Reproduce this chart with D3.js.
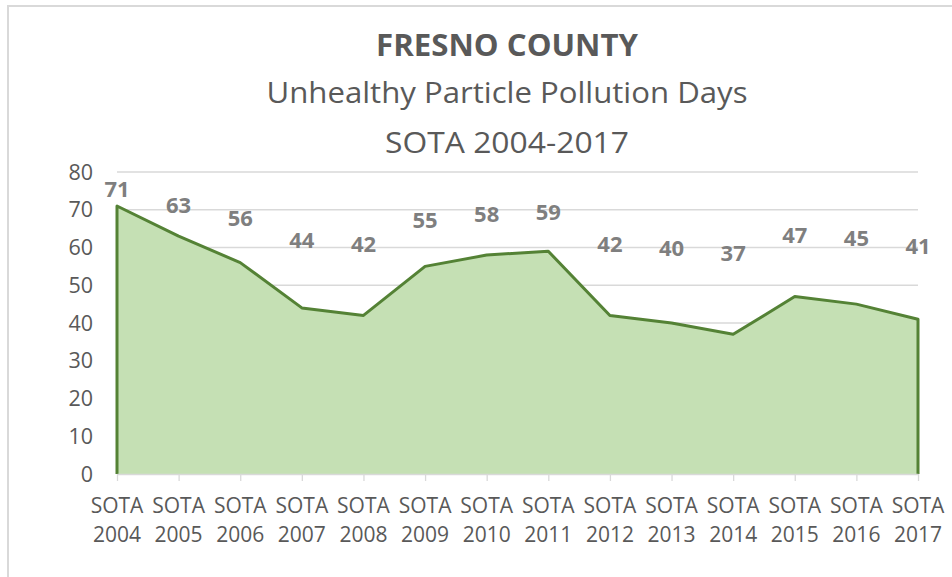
<!DOCTYPE html>
<html><head><meta charset="utf-8">
<script src="https://cdn.jsdelivr.net/npm/d3@7"></script>
<style>html,body{margin:0;padding:0;background:#fff;}svg{display:block;}</style>
</head><body>
<script>
const categories = ["SOTA 2004","SOTA 2005","SOTA 2006","SOTA 2007","SOTA 2008","SOTA 2009","SOTA 2010","SOTA 2011","SOTA 2012","SOTA 2013","SOTA 2014","SOTA 2015","SOTA 2016","SOTA 2017"];
const values = [71,63,56,44,42,55,58,59,42,40,37,47,45,41];
const yTicks = [0,10,20,30,40,50,60,70,80];
const titleLines = ["FRESNO COUNTY","Unhealthy Particle Pollution Days","SOTA 2004-2017"];

const W = 952, H = 577;
const font = "'Open Sans', sans-serif";
const svg = d3.select("body").append("svg").attr("width", W).attr("height", H);

// chart frame
svg.append("rect").attr("x", 8).attr("y", 6).attr("width", W + 20).attr("height", H + 20)
  .attr("fill", "#fff").attr("stroke", "#d9d9d9").attr("stroke-width", 2);

const x = d3.scalePoint().domain(categories).range([117, 918]);
const y = d3.scaleLinear().domain([0, 80]).range([474, 172]);
const yLab = d3.scaleLinear().domain([0, 80]).range([323.6, 173]);

// gridlines
svg.append("g").selectAll("line").data(yTicks.filter(d => d > 0)).join("line")
  .attr("x1", 117).attr("x2", 918)
  .attr("y1", d => y(d)).attr("y2", d => y(d))
  .attr("stroke", "#d9d9d9").attr("stroke-width", 1.3);

// area
const data = categories.map((c, i) => ({c, v: values[i]}));
svg.append("path").datum(data)
  .attr("d", d3.area().x(d => x(d.c)).y0(y(0)).y1(d => y(d.v)))
  .attr("fill", "#c5e0b4");
const outline = [{c: categories[0], v: 0}, ...data, {c: categories[categories.length - 1], v: 0}];
svg.append("path").datum(outline)
  .attr("d", d3.line().x(d => x(d.c)).y(d => y(d.v)))
  .attr("fill", "none").attr("stroke", "#548235").attr("stroke-width", 3).attr("stroke-linejoin", "round");

// x axis
const xa = svg.append("g").attr("transform", `translate(0,${y(0)})`)
  .call(d3.axisBottom(x).tickSize(7).tickSizeOuter(0).tickFormat(""));
xa.select(".domain").attr("stroke", "#d9d9d9").attr("stroke-width", 1.5);
xa.selectAll(".tick line").attr("stroke", "#d9d9d9").attr("stroke-width", 1.3);
const xl = svg.append("g").selectAll("text").data(categories).join("text")
  .attr("x", d => x(d)).attr("text-anchor", "middle")
  .attr("font-family", font).attr("font-size", 21).attr("fill", "#595959");
xl.append("tspan").attr("x", d => x(d)).attr("y", 513).text(d => d.split(" ")[0]);
xl.append("tspan").attr("x", d => x(d)).attr("y", 542).text(d => d.split(" ")[1]);

// y axis labels
svg.append("g").selectAll("text").data(yTicks).join("text")
  .attr("x", 93).attr("y", d => y(d) + 7.5).attr("text-anchor", "end")
  .attr("font-family", font).attr("font-size", 21.5).attr("fill", "#595959")
  .text(d => d);

// data labels
svg.append("g").selectAll("text").data(data).join("text")
  .attr("x", d => x(d.c)).attr("y", d => yLab(d.v) + 7.5).attr("text-anchor", "middle")
  .attr("font-family", font).attr("font-size", 22).attr("font-weight", "bold").attr("fill", "#7f7f7f")
  .text(d => d.v);

// titles
const tSpec = [
  {y: 56, size: 30, weight: "bold", len: 262},
  {y: 103, size: 29, weight: "normal", len: 481},
  {y: 153, size: 29, weight: "normal", len: 244}
];
svg.append("g").selectAll("text").data(titleLines).join("text")
  .attr("x", 507).attr("y", (d, i) => tSpec[i].y).attr("text-anchor", "middle")
  .attr("font-family", font).attr("font-size", (d, i) => tSpec[i].size)
  .attr("font-weight", (d, i) => tSpec[i].weight).attr("fill", "#595959")
  .attr("textLength", (d, i) => tSpec[i].len).attr("lengthAdjust", "spacingAndGlyphs")
  .text(d => d);
</script>
</body></html>
